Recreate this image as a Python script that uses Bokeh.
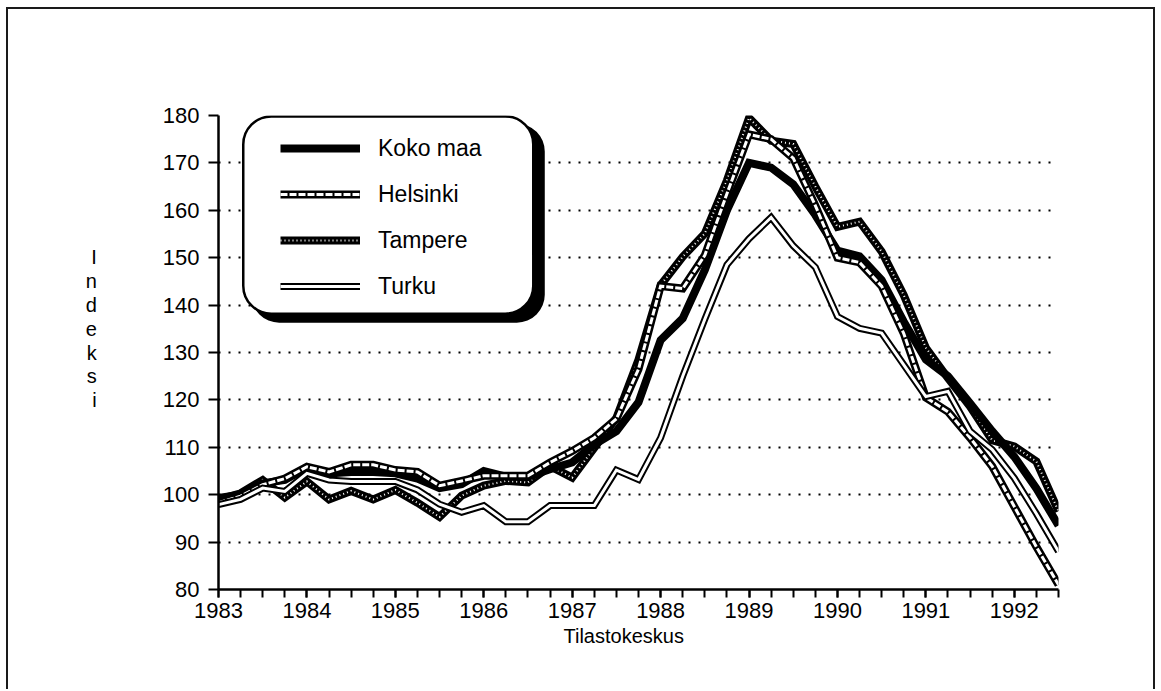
from bokeh.plotting import figure
from bokeh.models import (Range1d, FixedTicker, Legend, LegendItem, BoxAnnotation, Title)
from bokeh.embed import file_html
from bokeh.resources import INLINE

# ---- data (quarterly index, 1983Q1 .. 1992Q3) ----
start_year = 1983
year_ticks = [1983, 1984, 1985, 1986, 1987, 1988, 1989, 1990, 1991, 1992]
y_ticks = [80, 90, 100, 110, 120, 130, 140, 150, 160, 170, 180]

koko_maa = [99.3, 100.0, 102.4, 103.1, 105.7, 104.5, 104.8, 104.8, 104.5, 103.4,
            101.4, 102.2, 105.0, 103.8, 103.8, 105.4, 106.8, 110.6, 113.4, 119.5,
            132.6, 137.2, 147.4, 160.0, 170.0, 169.0, 165.5, 159.0, 151.5, 150.3,
            145.3, 136.5, 128.5, 125.0, 119.3, 113.4, 108.0, 101.3, 93.5]
helsinki = [98.3, 99.7, 102.1, 103.4, 105.9, 104.8, 106.3, 106.3, 105.2, 104.8,
            101.9, 102.9, 104.0, 104.0, 104.0, 106.8, 109.2, 112.0, 116.0, 126.5,
            144.0, 143.5, 150.5, 163.5, 176.0, 175.0, 171.0, 161.0, 150.0, 149.0,
            144.0, 134.0, 120.5, 117.5, 112.0, 106.0, 97.5, 89.0, 81.0]
tampere = [99.0, 100.3, 103.1, 99.4, 102.8, 99.0, 100.8, 99.0, 101.0, 98.3,
           95.3, 99.8, 101.9, 102.9, 102.6, 106.0, 103.6, 109.9, 116.2, 128.5,
           144.2, 150.2, 155.1, 166.3, 179.5, 174.7, 174.0, 165.0, 156.5, 157.6,
           151.3, 142.1, 131.0, 124.6, 118.6, 111.5, 110.2, 107.0, 96.5]
turku = [97.9, 99.0, 101.4, 100.7, 104.5, 103.1, 102.8, 102.8, 102.8, 101.0,
         98.0, 96.3, 97.7, 94.3, 94.3, 97.7, 97.7, 97.7, 105.2, 103.2,
         112.0, 125.0, 137.0, 148.5, 154.0, 158.5, 152.5, 148.0, 137.6, 135.1,
         134.1, 127.4, 120.7, 121.8, 113.4, 109.5, 103.5, 96.0, 88.0]

quarters = [start_year + q / 4 for q in range(len(koko_maa))]

FONT = "Liberation Sans"
W, H = 1149, 682

p = figure(width=W, height=H, output_backend="svg", toolbar_location=None,
           x_range=Range1d(quarters[0], quarters[-1]), y_range=Range1d(80, 180),
           min_border_left=210, min_border_right=99, min_border_top=106,
           min_border_bottom=102)
p.outline_line_color = None
p.background_fill_color = "white"
p.border_fill_color = "white"
p.styles = {"margin-left": "6px", "margin-top": "7px",
            "border-top": "2px solid #1a1a1a", "border-left": "2px solid #1a1a1a",
            "border-right": "2px solid #1a1a1a"}

# axes
xa = p.xaxis[0]
xa.ticker = FixedTicker(ticks=year_ticks, minor_ticks=quarters)
xa.axis_line_width = 2.5
xa.axis_line_color = "black"
xa.major_tick_in = 0
xa.major_tick_out = 8
xa.minor_tick_in = 0
xa.minor_tick_out = 8
xa.major_tick_line_width = 2
xa.minor_tick_line_width = 2
xa.major_tick_line_color = "black"
xa.minor_tick_line_color = "black"
xa.major_label_text_font = FONT
xa.major_label_text_font_size = "22px"
xa.major_label_text_color = "black"
xa.major_label_standoff = 5

ya = p.yaxis[0]
ya.ticker = FixedTicker(ticks=y_ticks)
ya.axis_line_width = 2.5
ya.axis_line_color = "black"
ya.major_tick_in = 0
ya.major_tick_out = 10
ya.major_tick_line_width = 2
ya.major_tick_line_color = "black"
ya.minor_tick_line_color = None
ya.major_label_text_font = FONT
ya.major_label_text_font_size = "22px"
ya.major_label_text_color = "black"
ya.major_label_standoff = 9
# stacked, upright letters as in the original
ya.axis_label = "I\nn\nd\ne\nk\ns\ni\n \n "
ya.axis_label_orientation = "horizontal"
ya.axis_label_text_font = FONT
ya.axis_label_text_font_size = "20px"
ya.axis_label_text_font_style = "normal"
ya.axis_label_text_color = "black"
ya.axis_label_text_line_height = 1.09
ya.axis_label_text_align = "center"
ya.axis_label_standoff = 63

p.xgrid.grid_line_color = None
p.ygrid.ticker = FixedTicker(ticks=y_ticks)
p.ygrid.grid_line_color = "black"
p.ygrid.grid_line_width = 2
p.ygrid.grid_line_dash = "2 8"

# series (drawn as in the scanned original: black strokes with white inner patterns)
r_tam_o = p.line(quarters, tampere, line_color="black", line_width=8, line_join="miter")
r_tam_i = p.line(quarters, tampere, line_color="white", line_width=2, line_dash="1 3",
                 line_join="miter")
r_kok = p.line(quarters, koko_maa, line_color="black", line_width=8, line_join="miter")
r_hel_o = p.line(quarters, helsinki, line_color="black", line_width=8, line_join="miter")
r_hel_i = p.line(quarters, helsinki, line_color="white", line_width=3, line_dash="7 2",
                 line_join="miter")
r_tur_o = p.line(quarters, turku, line_color="black", line_width=7, line_join="miter")
r_tur_i = p.line(quarters, turku, line_color="white", line_width=3, line_join="miter")

# legend box with drop shadow (rounded)
shadow = BoxAnnotation(left=1983.37, right=1986.69, top=178.3, bottom=136.3,
                       fill_color="black", fill_alpha=1, line_color=None,
                       border_radius=28)
box = BoxAnnotation(left=1983.28, right=1986.56, top=179.8, bottom=138.2,
                    fill_color="white", fill_alpha=1, line_color="black",
                    line_alpha=1, line_width=2.5, border_radius=28)
p.add_layout(shadow)
p.add_layout(box)

legend = Legend(items=[
    LegendItem(label="Koko maa", renderers=[r_kok]),
    LegendItem(label="Helsinki", renderers=[r_hel_o, r_hel_i]),
    LegendItem(label="Tampere", renderers=[r_tam_o, r_tam_i]),
    LegendItem(label="Turku", renderers=[r_tur_o, r_tur_i]),
], location=(62, 288), orientation="vertical",
    glyph_width=80, glyph_height=30, spacing=16, padding=0, margin=0,
    label_standoff=18, label_text_font=FONT, label_text_font_size="23px",
    label_text_color="black", background_fill_alpha=0, border_line_color=None)
p.add_layout(legend, "center")

# source line under the x axis
p.add_layout(Title(text="Tilastokeskus", align="left", offset=345, standoff=4,
                   text_font=FONT, text_font_size="20px", text_font_style="normal",
                   text_color="black"), "below")

open("out.html", "w").write(file_html(p, INLINE))
